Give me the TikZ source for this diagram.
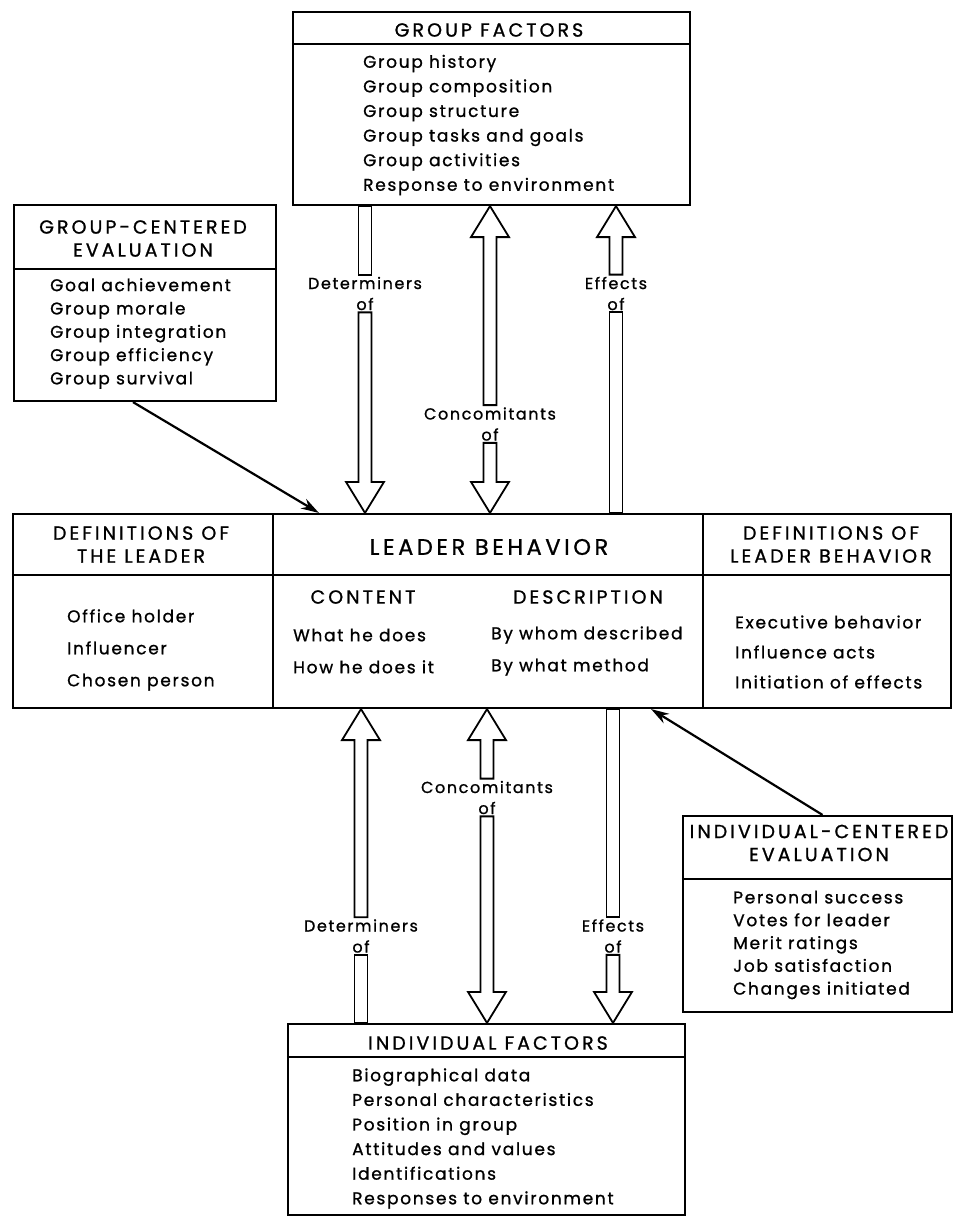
\documentclass[tikz,border=0pt]{standalone}
\usepackage{fontspec}
\setmainfont{Poppins}[LetterSpace=10, FakeBold=1]
\newfontfamily\capsfont{Poppins}[LetterSpace=16, FakeBold=1]
\usetikzlibrary{calc,arrows.meta}

\tikzset{
  box/.style={draw, line width=2.2pt, inner sep=0pt},
  rule/.style={line width=2.2pt},
  head/.style={font=\capsfont\fontsize{19}{23}\selectfont, align=center, inner sep=0pt},
  items/.style={font=\fontsize{17}{24.6}\selectfont, align=left, anchor=west, inner sep=0pt},
  lbl/.style={font=\fontsize{16}{21}\selectfont, align=center, inner sep=2pt},
  hollowup/.style={line width=1.8pt, to path={let \p1=(\tikztostart), \p2=(\tikztotarget) in
    (\x1-6.5pt,\y1) -- (\x1-6.5pt,\y2-31pt) -- (\x1-19pt,\y2-31pt) -- (\x1,\y2)
    -- (\x1+19pt,\y2-31pt) -- (\x1+6.5pt,\y2-31pt) -- (\x1+6.5pt,\y1) -- cycle}},
  hollowdown/.style={line width=1.8pt, to path={let \p1=(\tikztostart), \p2=(\tikztotarget) in
    (\x1-6.5pt,\y1) -- (\x1-6.5pt,\y2+31pt) -- (\x1-19pt,\y2+31pt) -- (\x1,\y2)
    -- (\x1+19pt,\y2+31pt) -- (\x1+6.5pt,\y2+31pt) -- (\x1+6.5pt,\y1) -- cycle}},
  hollowbar/.style={line width=1.8pt, to path={let \p1=(\tikztostart), \p2=(\tikztotarget) in
    (\x1-6.5pt,\y1) rectangle (\x1+6.5pt,\y2)}},
  evalarrow/.style={-{Stealth[length=18pt,width=11pt]}, line width=2.2pt},
}

\begin{document}
\begin{tikzpicture}[x=1pt, y=-1pt]
\useasboundingbox (0,0) rectangle (954,1217);

% boxes
\node[box, minimum width=397pt, minimum height=193pt] (gf) at (491.5,108.5) {};
\node[box, minimum width=262pt, minimum height=196pt] (gce) at (145,303) {};
\node[box, minimum width=260pt, minimum height=194pt] (dtl) at (143,611) {};
\node[box, minimum width=430pt, minimum height=194pt] (lb) at (488,611) {};
\node[box, minimum width=248pt, minimum height=194pt] (dlb) at (827,611) {};
\node[box, minimum width=269pt, minimum height=196pt] (ice) at (817.5,914) {};
\node[box, minimum width=397pt, minimum height=191pt] (if) at (486.5,1119.5) {};

% header rules
\draw[rule] ([yshift=-33pt]gf.north west) -- ([yshift=-33pt]gf.north east);
\draw[rule] ([yshift=-65pt]gce.north west) -- ([yshift=-65pt]gce.north east);
\draw[rule] ([yshift=-62pt]dtl.north west) -- ([yshift=-62pt]dlb.north east);
\draw[rule] ([yshift=-64pt]ice.north west) -- ([yshift=-64pt]ice.north east);
\draw[rule] ([yshift=-34pt]if.north west) -- ([yshift=-34pt]if.north east);

% texts
\node[head] (gfh) at (489,30) {GROUP FACTORS};
\node[items] (gfl) at (363,125) {Group history\\Group composition\\Group structure\\Group tasks and goals\\Group activities\\Response to environment};

\node[head] (gceh) at (143,238.5) {GROUP-CENTERED\\EVALUATION};
\node[items, font=\fontsize{17}{23.3}\selectfont] (gcel) at (50,333.5) {Goal achievement\\Group morale\\Group integration\\Group efficiency\\Group survival};

\node[head] (dtlh) at (141,544.5) {DEFINITIONS OF\\THE LEADER};
\node[items, font=\fontsize{17}{32}\selectfont] (dtll) at (67,650) {Office holder\\Influencer\\Chosen person};

\node[head, font=\capsfont\fontsize{22.5}{23}\selectfont] (lbh) at (489,547) {LEADER BEHAVIOR};
\node[head] (cont) at (363,597) {CONTENT};
\node[head] (desc) at (588,597) {DESCRIPTION};
\node[items, font=\fontsize{17}{32}\selectfont] (contl) at (293,651) {What he does\\How he does it};
\node[items, font=\fontsize{17}{32}\selectfont] (descl) at (491,651) {By whom described\\By what method};

\node[head] (dlbh) at (831,544.5) {DEFINITIONS OF\\LEADER BEHAVIOR};
\node[items, font=\fontsize{17}{30}\selectfont] (dlbl) at (735,652) {Executive behavior\\Influence acts\\Initiation of effects};

\node[head] (iceh) at (819,843) {INDIVIDUAL-CENTERED\\EVALUATION};
\node[items, font=\fontsize{17}{22.8}\selectfont] (icel) at (733,945) {Personal success\\Votes for leader\\Merit ratings\\Job satisfaction\\Changes initiated};

\node[head] (ifh) at (488,1043) {INDIVIDUAL FACTORS};
\node[items] (ifl) at (352,1138.5) {Biographical data\\Personal characteristics\\Position in group\\Attitudes and values\\Identifications\\Responses to environment};

% arrow labels
\node[lbl] (detA) at (365,293.5) {Determiners\\of};
\node[lbl] (conA) at (490,424) {Concomitants\\of};
\node[lbl] (effA) at (616,293.5) {Effects\\of};
\node[lbl] (detB) at (361,936) {Determiners\\of};
\node[lbl] (conB) at (487,797.5) {Concomitants\\of};
\node[lbl] (effB) at (613,936) {Effects\\of};

% upper arrows
\draw[hollowbar] (detA |- gf.south) to (detA.north);
\draw[hollowdown] (detA.south) to (detA |- lb.north);
\draw[hollowup] (conA.north) to (conA |- gf.south);
\draw[hollowdown] (conA.south) to (conA |- lb.north);
\draw[hollowup] (effA.north) to (effA |- gf.south);
\draw[hollowbar] (effA.south) to (effA |- lb.north);

% lower arrows
\draw[hollowup] (detB.north) to (detB |- lb.south);
\draw[hollowbar] (detB.south) to (detB |- if.north);
\draw[hollowup] (conB.north) to (conB |- lb.south);
\draw[hollowdown] (conB.south) to (conB |- if.north);
\draw[hollowbar] (effB |- lb.south) to (effB.north);
\draw[hollowdown] (effB.south) to (effB |- if.north);

% evaluation arrows
\coordinate (gtip) at ([xshift=47pt]lb.north west);
\coordinate (itip) at ([xshift=-53pt]lb.south east);
\draw[evalarrow] ([xshift=-12pt]gce.south) -- (gtip);
\draw[evalarrow] ([xshift=5pt]ice.north) -- (itip);
\end{tikzpicture}
\end{document}
